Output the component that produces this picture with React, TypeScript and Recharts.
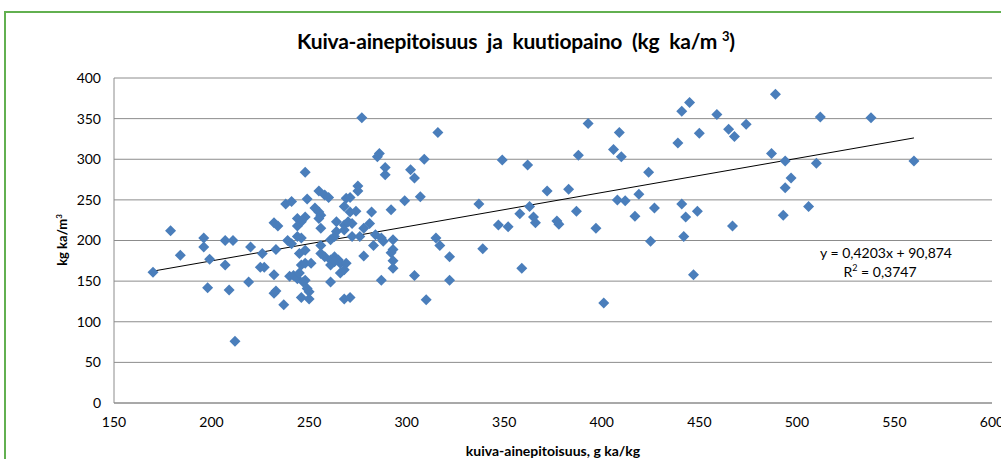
import React from 'react';
import { ScatterChart, Scatter, XAxis, YAxis, CartesianGrid, ReferenceLine } from 'recharts';

// kuiva-ainepitoisuus, g ka/kg (x)
const dryMatter = [
  170, 179, 184, 196, 196, 199, 198, 207, 211, 207, 209, 212, 220, 219, 226, 225, 227, 232, 232, 234, 233, 238, 239, 232, 233, 237, 240,
  241, 241, 242, 244, 245, 248, 249, 244, 246, 248, 244, 244, 246, 245, 248, 246, 248, 248, 247, 249, 250, 246, 250, 251, 253, 255, 256, 255, 255, 258, 260, 256, 256, 256, 258, 261, 263, 265, 261, 261,
  277, 316, 286, 285, 289, 289, 275, 275, 309, 302, 304, 269, 271, 299, 307, 337, 292, 282, 268, 271, 274, 264, 268, 270, 272, 281, 278, 264, 268, 263, 261, 272, 276, 284, 287, 288, 293, 283, 293, 292, 315, 317, 339, 278, 263, 266, 269, 293, 293, 322, 266, 268, 304, 287, 322, 268, 271, 310,
  349, 362, 393, 409, 406, 410, 388, 372, 383, 424, 363, 358, 365, 366, 347, 352, 377, 378, 387, 397, 408, 412, 419, 427, 417, 425, 359, 401,
  489, 445, 441, 459, 512, 465, 468, 474, 450, 439, 487, 494, 510, 497, 494, 441, 443, 449, 493, 506, 467, 442, 447, 538, 560,
];

// kuutiopaino, kg ka/m3 (y)
const cubicWeight = [
  161, 212, 182, 203, 192, 177, 142, 200, 200, 170, 139, 76, 192, 149, 184, 167, 167, 158, 222, 218, 189, 245, 200, 135, 138, 121, 156,
  248, 196, 157, 153, 160, 284, 251, 227, 223, 229, 218, 205, 203, 184, 188, 170, 172, 151, 149, 141, 137, 130, 128, 172, 240, 235, 231, 227, 261, 256, 253, 215, 194, 184, 180, 176, 180, 176, 170, 149,
  351, 333, 307, 303, 290, 281, 267, 261, 300, 287, 277, 252, 253, 249, 254, 245, 238, 235, 242, 235, 236, 223, 219, 223, 221, 221, 215, 211, 213, 205, 201, 205, 205, 207, 203, 199, 201, 194, 189, 185, 203, 194, 190, 181, 174, 172, 172, 175, 166, 180, 160, 164, 157, 151, 151, 128, 130, 127,
  299, 293, 344, 333, 312, 303, 305, 261, 263, 284, 242, 233, 229, 222, 219, 217, 224, 220, 236, 215, 250, 249, 257, 240, 230, 199, 166, 123,
  380, 370, 359, 355, 352, 337, 328, 343, 332, 320, 307, 298, 295, 277, 265, 245, 229, 236, 231, 242, 218, 205, 158, 351, 298,
];

const xTicks = [150, 200, 250, 300, 350, 400, 450, 500, 550, 600];
const yTicks = [0, 50, 100, 150, 200, 250, 300, 350, 400];

// trendiviiva (Excelin lineaarinen)
const slope = 0.4203;
const intercept = 90.874;
const trendStart = 170;
const trendEnd = 560;

const points = dryMatter.map((x, i) => ({ x, y: cubicWeight[i] }));

const FONT = 'Lato, "Open Sans", sans-serif';
const GRID = '#8c8c8c';

const Diamond = (props: any) => {
  const { cx, cy } = props;
  const r = 5.5;
  return (
    <polygon
      points={`${cx},${cy - r} ${cx + r},${cy} ${cx},${cy + r} ${cx - r},${cy}`}
      fill="#4a7ebb"
    />
  );
};

export default function App() {
  return (
    <div style={{ position: 'absolute', left: 0, top: 0, width: 1001, height: 459, background: '#fff', overflow: 'hidden', fontFamily: FONT }}>
      <div
        style={{
          position: 'absolute', left: 4, top: 11, width: 997, height: 448,
          borderLeft: '2px solid #62b050', borderTop: '2px solid #62b050', boxSizing: 'border-box',
        }}
      />
      <div style={{ position: 'absolute', left: 516, top: 28, transform: 'translateX(-50%)', fontSize: 21, fontWeight: 700, whiteSpace: 'pre', color: '#000', letterSpacing: -0.2 }}>
        Kuiva-ainepitoisuus  ja  kuutiopaino  (kg  ka/m <sup style={{ fontSize: 13 }}>3</sup>)
      </div>
      <div style={{ position: 'absolute', left: 62, top: 240, transform: 'translate(-50%, -50%) rotate(-90deg)', fontSize: 13, fontWeight: 700, whiteSpace: 'nowrap' }}>
        kg ka/m<sup style={{ fontSize: 8 }}>3</sup>
      </div>
      <div style={{ position: 'absolute', left: 553, top: 450, transform: 'translate(-50%, -50%)', fontSize: 14, fontWeight: 700, whiteSpace: 'nowrap' }}>
        kuiva-ainepitoisuus, g ka/kg
      </div>
      <div style={{ position: 'absolute', left: 886, top: 252, transform: 'translate(-50%, -50%)', fontSize: 14, whiteSpace: 'nowrap' }}>
        y = 0,4203x + 90,874
      </div>
      <div style={{ position: 'absolute', left: 880, top: 271, transform: 'translate(-50%, -50%)', fontSize: 14, whiteSpace: 'nowrap' }}>
        R<sup style={{ fontSize: 9 }}>2</sup> = 0,3747
      </div>
      <div style={{ position: 'absolute', left: 0, top: 0 }}>
        <ScatterChart width={1001} height={459} margin={{ top: 78, right: 9, bottom: 26, left: 54 }}>
          <CartesianGrid vertical={false} stroke={GRID} strokeWidth={1} />
          <XAxis
            type="number"
            dataKey="x"
            domain={[150, 600]}
            ticks={xTicks}
            interval={0}
            height={30}
            tickLine={false}
            tickMargin={8}
            axisLine={{ stroke: GRID }}
            tick={{ fill: '#000', fontSize: 14, fontFamily: FONT }}
          />
          <YAxis
            type="number"
            dataKey="y"
            domain={[0, 400]}
            ticks={yTicks}
            interval={0}
            width={60}
            tickLine={false}
            tickMargin={7}
            axisLine={{ stroke: GRID }}
            tick={{ fill: '#000', fontSize: 14, fontFamily: FONT }}
          />
          <Scatter data={points} shape={Diamond} isAnimationActive={false} />
          <ReferenceLine
            segment={[
              { x: trendStart, y: slope * trendStart + intercept },
              { x: trendEnd, y: slope * trendEnd + intercept },
            ]}
            stroke="#000"
            strokeWidth={1}
          />
        </ScatterChart>
      </div>
    </div>
  );
}
